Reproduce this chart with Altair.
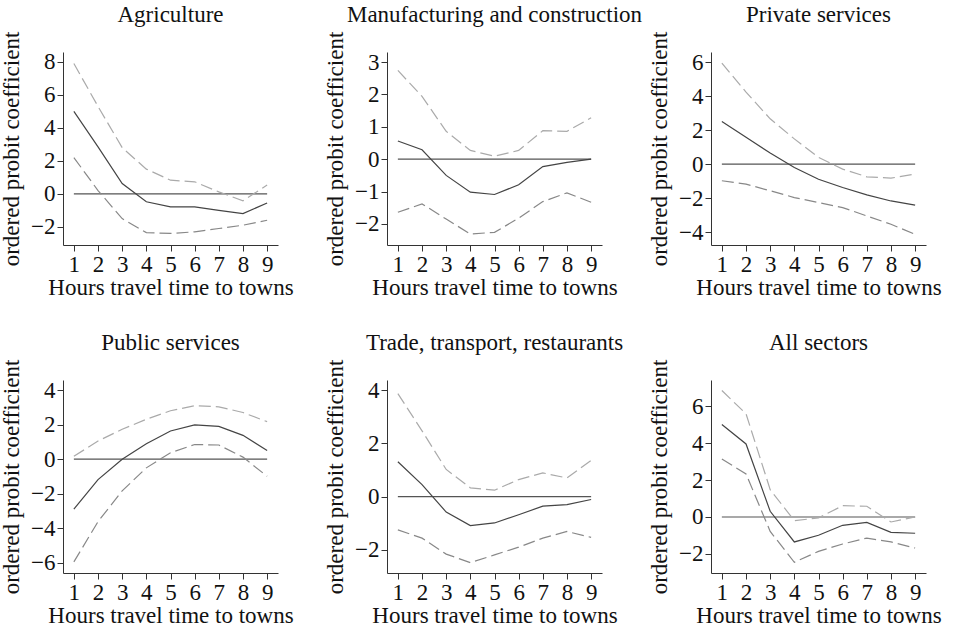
import altair as alt
import pandas as pd

hours = [1, 2, 3, 4, 5, 6, 7, 8, 9]

sectors = ["Agriculture", "Manufacturing and construction", "Private services",
           "Public services", "Trade, transport, restaurants", "All sectors"]

est = {
    "Agriculture": [5.0, 2.85, 0.63, -0.48, -0.79, -0.79, -1.0, -1.2, -0.55],
    "Manufacturing and construction": [0.56, 0.29, -0.5, -1.02, -1.09, -0.79, -0.23, -0.1, 0.0],
    "Private services": [2.5, 1.57, 0.65, -0.2, -0.89, -1.38, -1.81, -2.17, -2.42],
    "Public services": [-2.89, -1.18, 0.0, 0.89, 1.63, 1.98, 1.9, 1.38, 0.5],
    "Trade, transport, restaurants": [1.31, 0.45, -0.58, -1.09, -0.99, -0.68, -0.36, -0.3, -0.11],
    "All sectors": [5.0, 3.95, 0.31, -1.35, -0.99, -0.45, -0.29, -0.83, -0.88],
}
upper = {
    "Agriculture": [7.9, 5.3, 2.8, 1.5, 0.83, 0.73, 0.12, -0.42, 0.53],
    "Manufacturing and construction": [2.74, 1.94, 0.86, 0.27, 0.09, 0.27, 0.88, 0.86, 1.28],
    "Private services": [5.94, 4.23, 2.66, 1.48, 0.39, -0.3, -0.75, -0.83, -0.59],
    "Public services": [0.17, 1.05, 1.73, 2.31, 2.8, 3.09, 3.03, 2.7, 2.17],
    "Trade, transport, restaurants": [3.87, 2.47, 1.02, 0.33, 0.24, 0.64, 0.89, 0.7, 1.36],
    "All sectors": [6.84, 5.58, 1.48, -0.2, -0.05, 0.61, 0.58, -0.27, 0.0],
}
lower = {
    "Agriculture": [2.2, 0.2, -1.5, -2.35, -2.4, -2.3, -2.1, -1.9, -1.6],
    "Manufacturing and construction": [-1.64, -1.38, -1.85, -2.31, -2.26, -1.82, -1.31, -1.04, -1.33],
    "Private services": [-0.98, -1.18, -1.57, -1.97, -2.26, -2.56, -3.05, -3.54, -4.13],
    "Public services": [-5.94, -3.61, -1.83, -0.5, 0.37, 0.85, 0.82, 0.12, -0.99],
    "Trade, transport, restaurants": [-1.25, -1.56, -2.16, -2.48, -2.19, -1.9, -1.56, -1.31, -1.53],
    "All sectors": [3.14, 2.33, -0.78, -2.45, -1.86, -1.46, -1.14, -1.35, -1.68],
}

y_domains = {
    "Agriculture": [-3.1, 8.6],
    "Manufacturing and construction": [-2.65, 3.31],
    "Private services": [-4.76, 6.59],
    "Public services": [-6.58, 4.58],
    "Trade, transport, restaurants": [-2.87, 4.38],
    "All sectors": [-3.03, 7.41],
}
y_ticks = {
    "Agriculture": [-2, 0, 2, 4, 6, 8],
    "Manufacturing and construction": [-2, -1, 0, 1, 2, 3],
    "Private services": [-4, -2, 0, 2, 4, 6],
    "Public services": [-6, -4, -2, 0, 2, 4],
    "Trade, transport, restaurants": [-2, 0, 2, 4],
    "All sectors": [-2, 0, 2, 4, 6],
}

FONT = "Liberation Serif"
W, H = 215, 193


def panel(name):
    df = pd.DataFrame({"hours": hours, "est": est[name],
                       "upper": upper[name], "lower": lower[name],
                       "zero": [0] * len(hours)})
    x = alt.X("hours:Q", scale=alt.Scale(domain=[0.55, 9.45], nice=False, zero=False),
              axis=alt.Axis(values=hours, title="Hours travel time to towns", format="d"))
    ysc = alt.Scale(domain=y_domains[name], nice=False, zero=False)
    yax = alt.Axis(values=y_ticks[name], title="ordered probit coefficient", format="d")
    base = alt.Chart(df)
    zero = base.mark_line(color="#555555", strokeWidth=1.2).encode(
        x=x, y=alt.Y("zero:Q", scale=ysc, axis=yax))
    up = base.mark_line(color="#aaaaaa", strokeWidth=1.2, strokeDash=[12, 5]).encode(
        x=x, y=alt.Y("upper:Q", scale=ysc, axis=yax))
    lo = base.mark_line(color="#888888", strokeWidth=1.2, strokeDash=[12, 5]).encode(
        x=x, y=alt.Y("lower:Q", scale=ysc, axis=yax))
    md = base.mark_line(color="#444444", strokeWidth=1.2).encode(
        x=x, y=alt.Y("est:Q", scale=ysc, axis=yax))
    return alt.layer(zero, up, lo, md).properties(
        width=W, height=H, title=alt.TitleParams(name))


chart = alt.concat(*[panel(s) for s in sectors], columns=3,
                   spacing={"row": 135, "column": 109}, bounds="flush").properties(
    padding={"left": 0, "top": 4, "right": 0, "bottom": 0},
    background="white",
).configure_view(stroke=None).configure_axis(
    grid=False,
    labelFont=FONT, titleFont=FONT,
    labelFontSize=23, titleFontSize=23,
    labelColor="#111111", titleColor="#111111", titleFontWeight="normal",
    domainColor="#333333", tickColor="#333333", tickSize=6,
    labelPadding=2,
).configure_axisY(
    titlePadding=7
).configure_axisX(
    labelPadding=2, titlePadding=0
).configure_title(
    font=FONT, fontSize=23, fontWeight="normal", color="#111111", offset=0
)

chart.save("out.html", embed_options={"renderer": "svg", "actions": False})
